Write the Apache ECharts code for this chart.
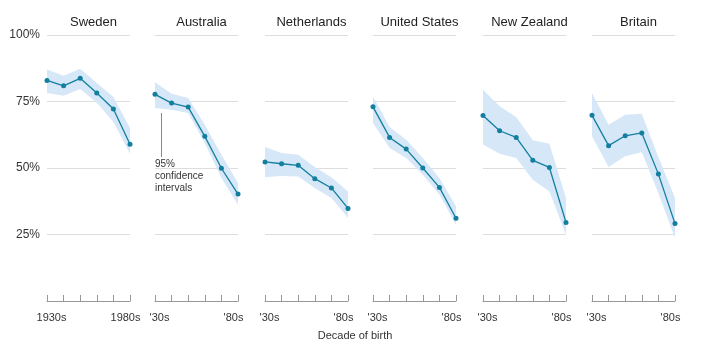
<!DOCTYPE html>
<html><head><meta charset="utf-8">
<script src="https://cdn.jsdelivr.net/npm/echarts@6/dist/echarts.min.js"></script>
<style>html,body{margin:0;padding:0;background:#fff}#c{width:710px;height:353px}</style>
</head><body><div id="c"></div>
<script>
const categories = ['1930s','1940s','1950s','1960s','1970s','1980s'];
const countries = ['Sweden','Australia','Netherlands','United States','New Zealand','Britain'];
const yTicks = [0, 25, 50, 75, 100];
const firstLabels = ['1930s', "'30s", "'30s", "'30s", "'30s", "'30s"];
const lastLabels = ['1980s', "'80s", "'80s", "'80s", "'80s", "'80s"];

const swedenMid  = [82.9, 80.9, 83.7, 78.2, 72.2, 58.9];
const swedenLow  = [78.2, 77.2, 79.7, 74.5, 67.3, 55.4];
const swedenHigh = [87.0, 84.7, 87.3, 82.0, 76.7, 65.0];

const australiaMid  = [77.7, 74.4, 72.9, 61.9, 49.9, 40.2];
const australiaLow  = [72.6, 71.9, 70.7, 59.4, 46.2, 36.2];
const australiaHigh = [82.2, 77.9, 76.3, 66.3, 55.0, 44.4];

const netherlandsMid  = [52.3, 51.6, 51.0, 46.0, 42.5, 34.8];
const netherlandsLow  = [46.5, 47.0, 46.8, 42.5, 38.7, 31.2];
const netherlandsHigh = [57.9, 55.6, 55.0, 50.4, 46.5, 41.2];

const usMid  = [73.0, 61.5, 57.1, 50.0, 42.7, 31.1];
const usLow  = [66.9, 57.5, 53.8, 47.5, 40.0, 28.7];
const usHigh = [76.9, 65.4, 60.6, 53.8, 46.2, 35.6];

const nzMid  = [69.7, 64.0, 61.5, 52.9, 50.2, 29.5];
const nzLow  = [58.8, 55.4, 53.8, 45.6, 41.2, 24.9];
const nzHigh = [79.4, 73.2, 69.2, 60.4, 59.1, 38.7];

const britainMid  = [69.8, 58.4, 62.1, 63.2, 47.7, 29.1];
const britainLow  = [61.9, 50.4, 54.4, 55.9, 40.5, 23.7];
const britainHigh = [78.2, 66.3, 70.0, 70.4, 54.0, 38.7];

const mids  = [swedenMid, australiaMid, netherlandsMid, usMid, nzMid, britainMid];
const lows  = [swedenLow, australiaLow, netherlandsLow, usLow, nzLow, britainLow];
const highs = [swedenHigh, australiaHigh, netherlandsHigh, usHigh, nzHigh, britainHigh];

const FONT = '"Liberation Sans", Arial, sans-serif';
const LINE = '#137f9f';
const BAND = '#d6e7f8';
const lefts = [47, 155, 265, 373, 483, 592];
const W = 83, TOP = 35, H = 266;

const grids = [], xAxes = [], yAxes = [], series = [], titles = [];
countries.forEach((name, i) => {
  grids.push({left: lefts[i], top: TOP, width: W, height: H});
  titles.push({text: name, left: lefts[i] + W/2, top: 11, textAlign: 'center',
    textStyle: {fontFamily: FONT, fontSize: 13, fontWeight: 'normal', color: '#222'}});
  xAxes.push({type: 'category', gridIndex: i, data: categories, boundaryGap: false, offset: 6,
    axisLine: {show: true, lineStyle: {color: '#999', width: 1}},
    axisTick: {show: true, inside: true, length: 6, interval: 0, lineStyle: {color: '#999'}},
    axisLabel: {interval: 0, margin: 5, color: '#333', fontFamily: FONT, fontSize: 11,
      formatter: (v, idx) => idx === 0 ? '{a|' + firstLabels[i] + '}' : (idx === categories.length - 1 ? '{b|' + lastLabels[i] + '}' : ''),
      rich: {a: {padding: [0, 0, 0, 9], fontSize: 11, fontFamily: FONT, color: '#333'},
             b: {padding: [0, 9, 0, 0], fontSize: 11, fontFamily: FONT, color: '#333'}}},
    splitLine: {show: false}});
  yAxes.push({type: 'value', gridIndex: i, min: yTicks[0], max: yTicks[yTicks.length-1], interval: 25,
    axisLine: {show: false}, axisTick: {show: false},
    axisLabel: {show: i === 0, margin: 7, color: '#333', fontFamily: FONT, fontSize: 12,
      formatter: v => v === 0 ? '' : v + '%'},
    splitLine: {show: true, lineStyle: {color: '#ddd', width: 1},
      showMinLine: false}});
  series.push({type: 'line', xAxisIndex: i, yAxisIndex: i, stack: 'band' + i, data: lows[i],
    symbol: 'none', lineStyle: {opacity: 0}, silent: true, z: 1});
  series.push({type: 'line', xAxisIndex: i, yAxisIndex: i, stack: 'band' + i,
    data: highs[i].map((h, k) => +(h - lows[i][k]).toFixed(2)),
    symbol: 'none', lineStyle: {opacity: 0}, areaStyle: {color: BAND, opacity: 1}, silent: true, z: 1});
  series.push({type: 'line', xAxisIndex: i, yAxisIndex: i, data: mids[i],
    symbol: 'circle', symbolSize: 5, showAllSymbol: true,
    lineStyle: {color: LINE, width: 1.3}, itemStyle: {color: LINE}, z: 3});
});

const chart = echarts.init(document.getElementById('c'), null, {renderer: 'canvas'});
chart.setOption({
  animation: false,
  title: titles,
  grid: grids, xAxis: xAxes, yAxis: yAxes, series: series,
  graphic: [
    {type: 'line', shape: {x1: 161.5, y1: 113, x2: 161.5, y2: 157}, style: {stroke: '#888', lineWidth: 1}},
    {type: 'text', left: 155, top: 158, style: {text: '95%\nconfidence\nintervals', font: '10px ' + FONT, fill: '#333', lineHeight: 12}},
    {type: 'text', left: 'center', top: 330, style: {text: 'Decade of birth', font: '11px ' + FONT, fill: '#333', x: 0}}
  ]
});
</script></body></html>
